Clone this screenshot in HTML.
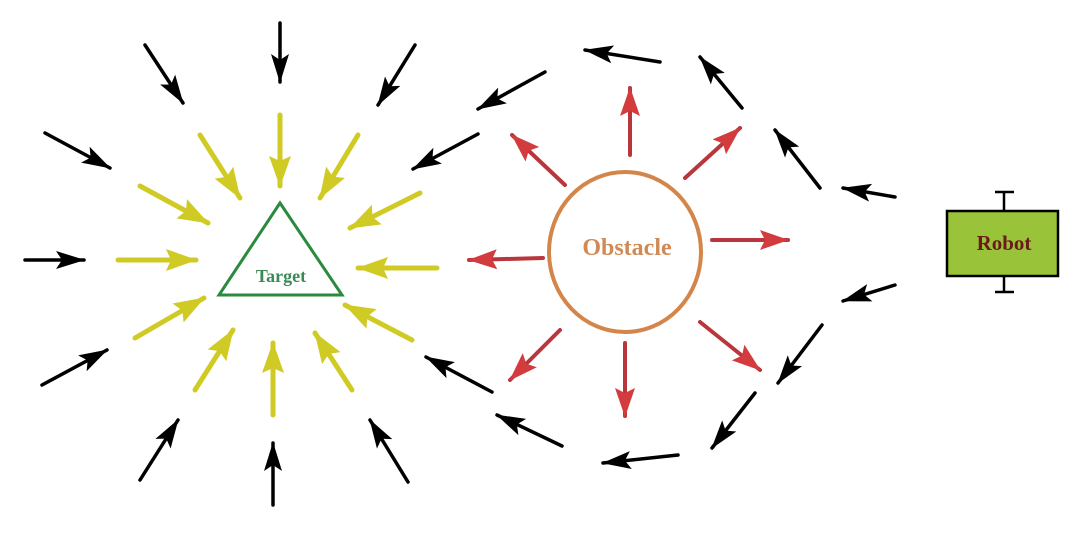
<!DOCTYPE html>
<html><head><style>html,body{margin:0;padding:0;background:#fff}svg{display:block}</style></head>
<body>
<svg width="1080" height="534" viewBox="0 0 1080 534" xmlns="http://www.w3.org/2000/svg">
<defs>
<marker id="hk" markerUnits="userSpaceOnUse" markerWidth="30" markerHeight="20" refX="28" refY="10" orient="auto"><path d="M0,1 L29,10 L0,19 L6,10 Z" fill="#000"/></marker>
<marker id="hy" markerUnits="userSpaceOnUse" markerWidth="32" markerHeight="24" refX="30" refY="12" orient="auto"><path d="M0,1 L31,12 L0,23 L5,12 Z" fill="#cfcb24"/></marker>
<marker id="hr" markerUnits="userSpaceOnUse" markerWidth="30" markerHeight="22" refX="28" refY="11" orient="auto"><path d="M0,1 L29,11 L0,21 L5,11 Z" fill="#d23c3e"/></marker>
</defs>
<g stroke="#000" stroke-width="3.5" stroke-linecap="round" marker-end="url(#hk)">
<line x1="145" y1="45" x2="183" y2="103"/>
<line x1="280" y1="23" x2="280" y2="82"/>
<line x1="415" y1="45" x2="378" y2="105"/>
<line x1="45" y1="133" x2="110" y2="168"/>
<line x1="25" y1="260" x2="84" y2="260"/>
<line x1="42" y1="385" x2="107" y2="350"/>
<line x1="140" y1="480" x2="178" y2="420"/>
<line x1="273" y1="505" x2="273" y2="443"/>
<line x1="408" y1="482" x2="370" y2="420"/>
<line x1="545" y1="72" x2="478" y2="109"/>
<line x1="478" y1="134" x2="413" y2="169"/>
<line x1="660" y1="62" x2="585" y2="50"/>
<line x1="742" y1="108" x2="700" y2="57"/>
<line x1="820" y1="188" x2="775" y2="130"/>
<line x1="895" y1="197" x2="843" y2="188"/>
<line x1="895" y1="285" x2="843" y2="301"/>
<line x1="822" y1="325" x2="778" y2="383"/>
<line x1="755" y1="393" x2="712" y2="448"/>
<line x1="678" y1="455" x2="603" y2="463"/>
<line x1="562" y1="446" x2="497" y2="415"/>
<line x1="492" y1="392" x2="426" y2="357"/>
</g>
<g stroke="#cfcb24" stroke-width="5" stroke-linecap="round" marker-end="url(#hy)">
<line x1="280" y1="115" x2="280" y2="186"/>
<line x1="200" y1="135" x2="240" y2="198"/>
<line x1="358" y1="135" x2="320" y2="198"/>
<line x1="140" y1="186" x2="208" y2="223"/>
<line x1="420" y1="193" x2="350" y2="228"/>
<line x1="118" y1="260" x2="196" y2="260"/>
<line x1="437" y1="268" x2="358" y2="268"/>
<line x1="135" y1="338" x2="204" y2="298"/>
<line x1="412" y1="340" x2="345" y2="305"/>
<line x1="195" y1="390" x2="233" y2="330"/>
<line x1="273" y1="415" x2="273" y2="343"/>
<line x1="352" y1="390" x2="315" y2="333"/>
</g>
<g stroke="#b8363c" stroke-width="4" stroke-linecap="round" marker-end="url(#hr)">
<line x1="630" y1="155" x2="630" y2="88"/>
<line x1="565" y1="185" x2="512" y2="135"/>
<line x1="685" y1="178" x2="740" y2="128"/>
<line x1="712" y1="240" x2="788" y2="240"/>
<line x1="543" y1="258" x2="469" y2="260"/>
<line x1="560" y1="330" x2="510" y2="380"/>
<line x1="625" y1="343" x2="625" y2="416"/>
<line x1="700" y1="322" x2="760" y2="370"/>
</g>
<polygon points="219,295 342,295 280,203" fill="none" stroke="#2a8a3e" stroke-width="3"/>
<text x="281" y="282" text-anchor="middle" font-family="Liberation Serif, serif" font-weight="bold" font-size="18" fill="#3a8a55">Target</text>
<ellipse cx="625" cy="252" rx="76" ry="80" fill="none" stroke="#d4864a" stroke-width="4"/>
<text x="627" y="255" text-anchor="middle" font-family="Liberation Serif, serif" font-weight="bold" font-size="24" fill="#d08a55">Obstacle</text>
<g stroke="#000" stroke-width="2.5">
<line x1="1004" y1="192" x2="1004" y2="210"/><line x1="995" y1="192" x2="1014" y2="192"/>
<line x1="1004" y1="276" x2="1004" y2="292"/><line x1="995" y1="292" x2="1014" y2="292"/>
</g>
<rect x="947" y="211" width="111" height="65" fill="#99c43a" stroke="#000" stroke-width="2.5"/>
<text x="1004" y="250" text-anchor="middle" font-family="Liberation Serif, serif" font-weight="bold" font-size="21" fill="#6b1a1a">Robot</text>
</svg>
</body></html>
